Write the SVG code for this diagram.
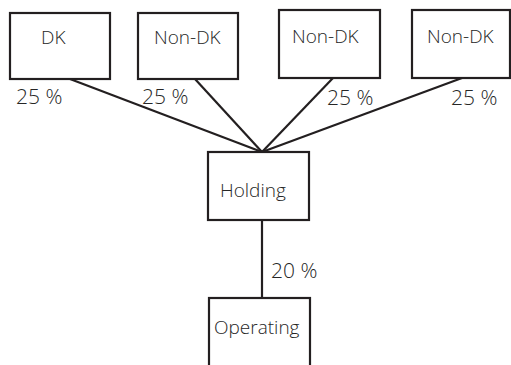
<svg xmlns="http://www.w3.org/2000/svg" width="511" height="365" viewBox="0 0 511 365">
<style>
.box{fill:#fff;stroke:#231f20;stroke-width:2.2}
line{stroke:#231f20;stroke-width:2.2}
text{font-family:"Open Sans","DejaVu Sans",sans-serif;font-size:19px;fill:#262626;font-weight:300}
.pct{font-size:21px}
</style>
<rect width="511" height="365" fill="#fff"/>
<g id="connectors">
<line x1="262" y1="152" x2="70" y2="79"/>
<line x1="262" y1="152" x2="195" y2="79"/>
<line x1="262" y1="152" x2="333" y2="78"/>
<line x1="262" y1="152" x2="462" y2="78"/>
<line x1="262" y1="220" x2="262" y2="298"/>
<text class="pct" x="16" y="104">25 %</text>
<text class="pct" x="142" y="104">25 %</text>
<text class="pct" x="327" y="105">25 %</text>
<text class="pct" x="451" y="105">25 %</text>
<text class="pct" x="271" y="278">20 %</text>
</g>
<g id="dk"><rect class="box" x="10" y="13" width="100" height="66"/><text x="41" y="44">DK</text></g>
<g id="nondk1"><rect class="box" x="138" y="13" width="100" height="66"/><text x="154" y="44">Non-DK</text></g>
<g id="nondk2"><rect class="box" x="279" y="10" width="101" height="68"/><text x="292" y="43">Non-DK</text></g>
<g id="nondk3"><rect class="box" x="412" y="10" width="98" height="68"/><text x="427" y="43">Non-DK</text></g>
<g id="holding"><rect class="box" x="208" y="152" width="101" height="68"/><text x="220" y="197">Holding</text></g>
<g id="operating"><rect class="box" x="209" y="298" width="101" height="80"/><text x="214" y="334">Operating</text></g>
</svg>
